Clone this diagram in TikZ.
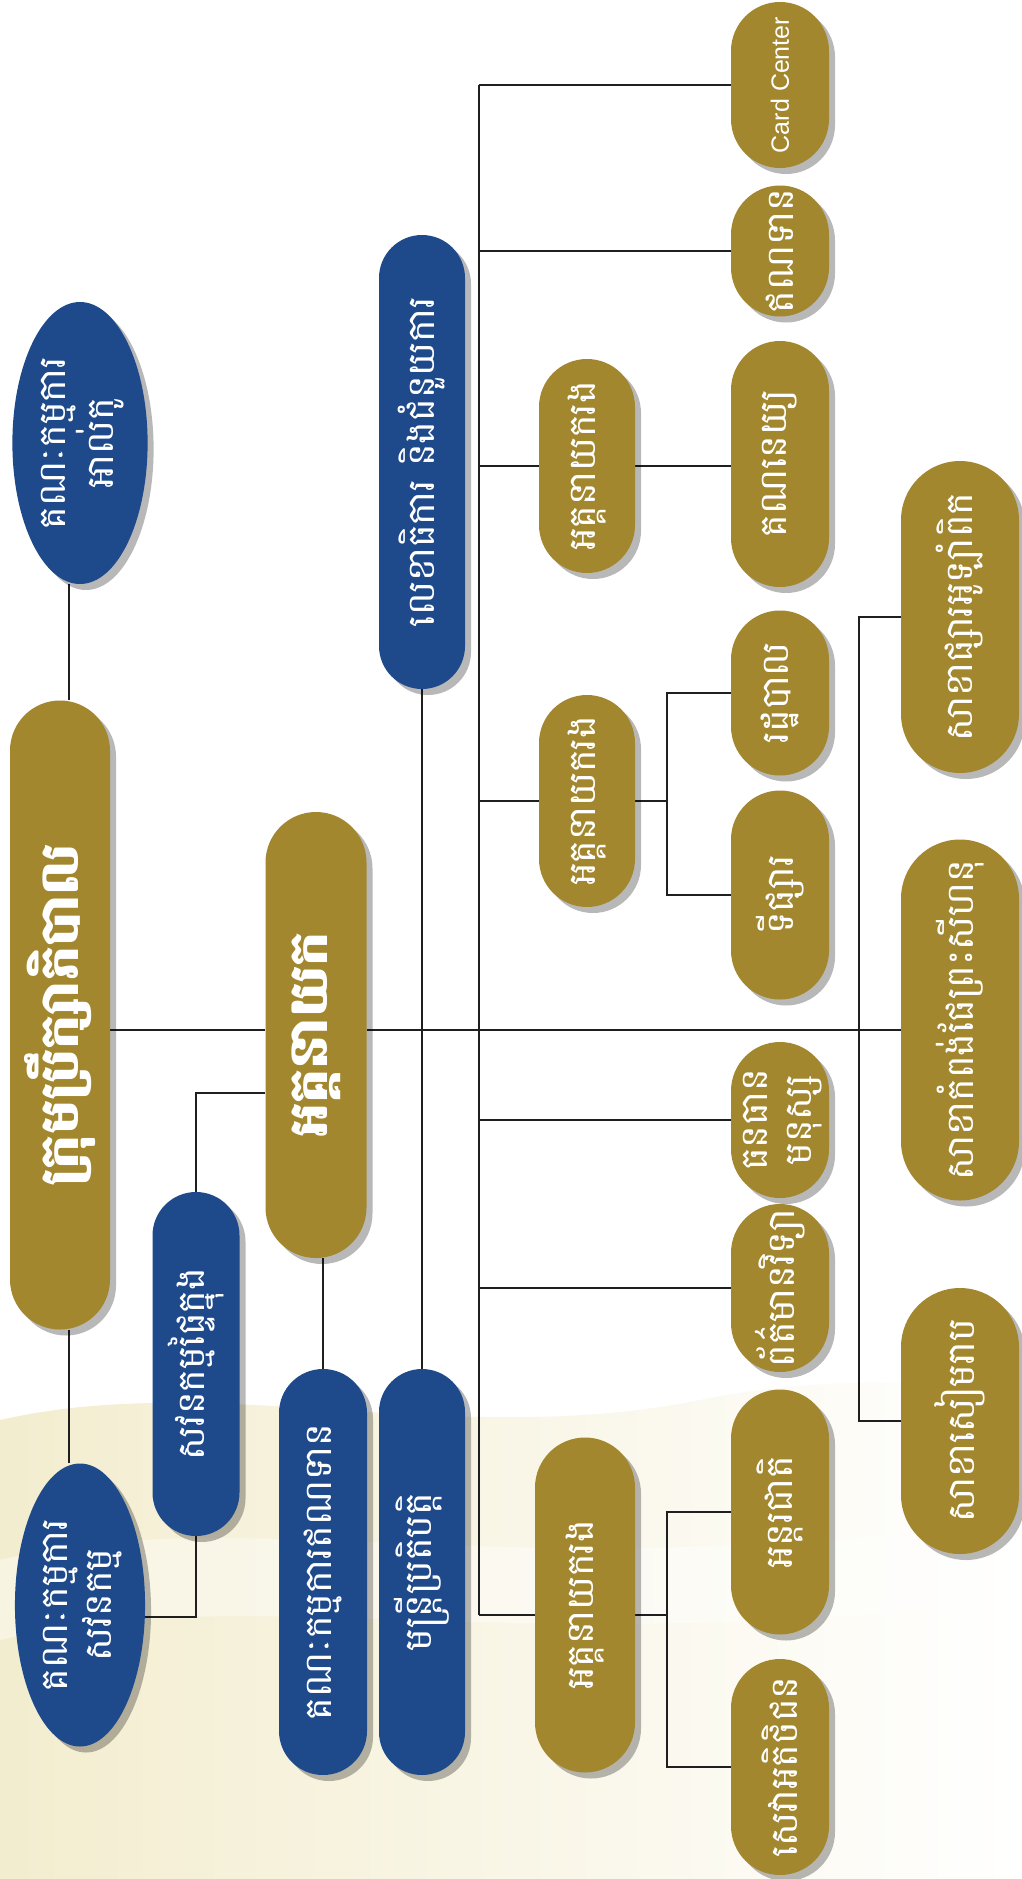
\documentclass[tikz,border=0pt]{standalone}
\usepackage{fontspec}
\usepackage{graphicx}
\newfontfamily\khmer[Script=Khmer]{Battambang}
\newfontfamily\latinsans{Liberation Sans}
\usetikzlibrary{shapes.geometric,shadows,calc}
\definecolor{gold}{HTML}{A3872F}
\definecolor{navy}{HTML}{1E4A8B}
\definecolor{cream}{HTML}{F3EDCF}
\pgfdeclarelayer{bgl}
\pgfdeclarelayer{lines}
\pgfsetlayers{bgl,lines,main}
\tikzset{
  box/.style={draw=none, inner sep=0pt, text=white,
    font=\khmer\fontsize{38}{48}\selectfont,
    drop shadow={shadow xshift=6pt, shadow yshift=-6pt, opacity=0.28, fill=black}},
  pill/.style n args={2}{box, rectangle, minimum width=#1pt, minimum height=#2pt,
    rounded corners=#1pt*0.5},
  oval/.style n args={2}{box, ellipse, minimum width=#1pt, minimum height=#2pt},
  goldfill/.style={fill=gold},
  bluefill/.style={fill=navy},
  big/.style={font=\khmer\bfseries\fontsize{54}{60}\selectfont},
  conn/.style={draw=black!88, line width=2pt}
}
\newcommand{\vt}[1]{\rotatebox{90}{#1}}
\newcommand{\vtt}[2]{\rotatebox{90}{\begin{tabular}{@{}c@{}}#1\\[-4pt]#2\end{tabular}}}
\begin{document}
\begin{tikzpicture}[x=1pt,y=-1pt]
\useasboundingbox (0,0) rectangle (1022,1879);
\begin{pgfonlayer}{bgl}
\fill[white] (0,0) rectangle (1022,1879);
\shade[left color=cream, right color=white]
  (0,1879) -- (0,1420) .. controls (220,1370) and (450,1450) .. (700,1400)
  .. controls (850,1370) and (950,1390) .. (1022,1380) -- (1022,1879) -- cycle;
\fill[white, opacity=0.4]
  (0,1560) .. controls (250,1500) and (500,1590) .. (1022,1520) -- (1022,1600)
  .. controls (500,1660) and (250,1580) .. (0,1640) -- cycle;
\end{pgfonlayer}

% left column
\node[oval={108}{282}, bluefill] (alco) at (80,443) {\vtt{គណៈកម្មការ}{អាល់កូ}};
\node[pill={100}{629}, goldfill, big] (board) at (60,1015) {\vt{ក្រុមប្រឹក្សាភិបាល}};
\node[oval={108}{283}, bluefill] (audit) at (80,1605) {\vtt{គណៈកម្មការ}{សវនកម្ម}};
\node[pill={87}{344}, bluefill] (iaudit) at (196,1364) {\vt{សវនកម្មផ្ទៃក្នុង}};
\node[pill={101}{446}, goldfill, big] (ceo) at (316,1035) {\vt{អគ្គនាយក}};
\node[pill={88}{406}, bluefill] (credit) at (323,1572) {\vt{គណៈកម្មការឥណទាន}};
\node[pill={86}{406}, bluefill] (exec) at (422,1572) {\vt{មន្ត្រីប្រតិបត្តិ}};
\node[pill={86}{454}, bluefill] (secr) at (422,462) {\vt{លេខាធិការ និងជំនួយការ}};
% deputies
\node[pill={96}{214}, goldfill] (dceo1) at (587,466) {\vt{អគ្គនាយករង}};
\node[pill={96}{212}, goldfill] (dceo2) at (587,801) {\vt{អគ្គនាយករង}};
\node[pill={100}{335}, goldfill] (dceo3) at (585,1605) {\vt{អគ្គនាយករង}};
% departments
\node[pill={98}{166}, goldfill, font=\latinsans\fontsize{25}{30}\selectfont] (card) at (780,85) {\vt{Card Center}};
\node[pill={98}{131}, goldfill] (cred) at (780,251) {\vt{ឥណទាន}};
\node[pill={98}{246}, goldfill] (acct) at (780,464) {\vt{គណនេយ្យ}};
\node[pill={98}{165}, goldfill] (admin) at (780,693) {\vt{រដ្ឋបាល}};
\node[pill={98}{209}, goldfill] (mkt) at (780,895) {\vt{ទីផ្សារ}};
\node[pill={98}{156}, goldfill] (hr) at (780,1120) {\vtt{ធនធាន}{មនុស្ស}};
\node[pill={98}{168}, goldfill] (it) at (780,1288) {\vt{ព័ត៌មានវិទ្យា}};
\node[pill={98}{245}, goldfill] (n8) at (780,1512) {\vt{អន្តរជាតិ}};
\node[pill={98}{216}, goldfill] (cs) at (780,1767) {\vt{សេវាអតិថិជន}};
% branches
\node[pill={118}{312}, goldfill] (olym) at (960,617) {\vt{សាខាផ្សារអូឡាំពិក}};
\node[pill={118}{361}, goldfill] (sihanouk) at (960,1020) {\vt{សាខាកំពង់ផែព្រះសីហនុ}};
\node[pill={118}{266}, goldfill] (third) at (960,1421) {\vt{សាខាសៀមរាប}};

\coordinate (v1) at (69,0);
\coordinate (hy) at (0,1030);
\coordinate (bus) at (479,0);
\coordinate (sb) at (667,0);
\coordinate (bb) at (859,0);
\coordinate (iy) at (0,1093);
\coordinate (ay) at (0,1617);
\coordinate (d3y) at (0,1615);

\begin{pgfonlayer}{lines}
\draw[conn] (alco.south -| v1) -- (board.north -| v1);
\draw[conn] (board.south -| v1) -- (audit.north -| v1);
\draw[conn] (audit.east |- ay) -| (iaudit.south);
\draw[conn] (iaudit.north) |- (ceo.west |- iy);
\draw[conn] (board.east |- hy) -- (ceo.west |- hy);
\draw[conn] (ceo.east |- hy) -- (sihanouk.west |- hy);
\draw[conn] (ceo.south -| credit) -- (credit.north);
\draw[conn] (secr.south) -- (exec.north);
\draw[conn] (card.west -| bus) -- (bus |- d3y);
\draw[conn] (card.west -| bus) -- (card.west);
\draw[conn] (cred.west -| bus) -- (cred.west);
\draw[conn] (dceo1.west -| bus) -- (dceo1.west);
\draw[conn] (dceo1.east) -- (dceo1.east -| acct.west);
\draw[conn] (dceo2.west -| bus) -- (dceo2.west);
\draw[conn] (dceo2.east) -- (dceo2.east -| sb);
\draw[conn] (admin.west) -- (admin.west -| sb) -- (mkt.west -| sb) -- (mkt.west);
\draw[conn] (hr.west -| bus) -- (hr.west);
\draw[conn] (it.west -| bus) -- (it.west);
\draw[conn] (bus |- d3y) -- (dceo3.west |- d3y);
\draw[conn] (dceo3.east |- d3y) -- (sb |- d3y);
\draw[conn] (n8.west) -- (n8.west -| sb) -- (cs.west -| sb) -- (cs.west);
\draw[conn] (olym.west) -- (olym.west -| bb) -- (third.west -| bb) -- (third.west);
\end{pgfonlayer}
\end{tikzpicture}
\end{document}
